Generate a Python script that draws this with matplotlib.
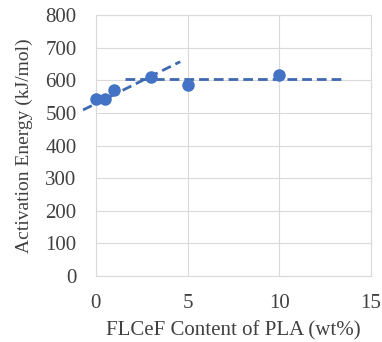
import numpy as np
import matplotlib
matplotlib.use("Agg")
import matplotlib.pyplot as plt

plt.rcParams['font.family'] = ['Liberation Serif', 'DejaVu Serif']

# measured points
content = [0, 0.5, 1, 3, 5, 10]
energy = [543, 542, 570, 611, 585, 615]

# trend lines drawn in the original
rise_x = [-0.7, 4.6]
rise_y = [509, 657]
plateau_x = [1.6, 13.6]
plateau_y = [605, 605]

blue = '#4472C4'
line_blue = '#4169B0'
grid_col = '#D9D9D9'

fig = plt.figure(figsize=(3.82, 3.42), dpi=100)
ax = fig.add_axes([0.251, 0.193, 0.720, 0.763])

ax.plot(rise_x, rise_y, linestyle=(0, (3.5, 1.8)), color=line_blue, lw=2.0, clip_on=False, zorder=3)
ax.plot(plateau_x, plateau_y, linestyle=(0, (3.5, 1.8)), color=line_blue, lw=2.0, zorder=3)
ax.plot(content, energy, 'o', color=blue, ms=8, clip_on=False, zorder=4)

ax.set_xlim(0, 15)
ax.set_ylim(0, 800)
ax.set_xticks([0, 5, 10, 15])
ax.set_yticks(range(0, 801, 100))
ax.grid(True, color=grid_col, lw=0.8)
ax.set_axisbelow(True)
for s in ax.spines.values():
    s.set_color(grid_col)
    s.set_linewidth(0.8)
ax.tick_params(length=0, labelsize=15, colors='#404040')
ax.tick_params(axis='y', pad=14)
ax.tick_params(axis='x', pad=13)
ax.set_xlabel('FLCeF Content of PLA (wt%)', fontsize=15, color='#404040', labelpad=6)
ax.set_ylabel('Activation Energy (kJ/mol)', fontsize=14, color='#404040', labelpad=9)

fig.savefig('out.png', dpi=100)
